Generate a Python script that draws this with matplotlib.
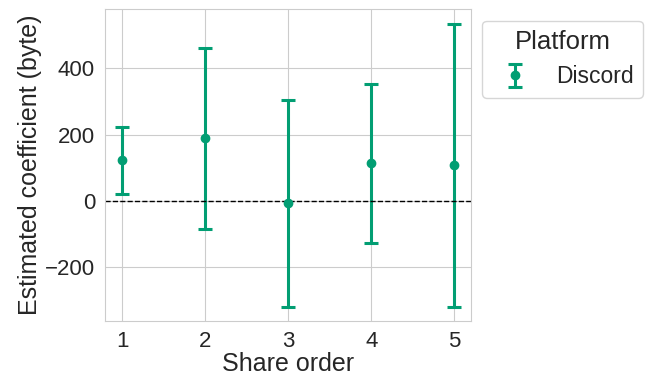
import numpy as np
import matplotlib.pyplot as plt
import seaborn as sns

# coeficientes estimados por orden de compartición
share_order = [1, 2, 3, 4, 5]
coef = [123, 189, -7, 114, 108]
err = [101, 273, 312, 240, 427]

sns.set_style("whitegrid")
plt.rcParams['font.family'] = ['Liberation Sans', 'DejaVu Sans']
color = sns.color_palette("colorblind")[2]

fig = plt.figure(figsize=(6.51, 3.81), dpi=100)
ax = fig.add_axes([0.162, 0.1575, 0.5615, 0.818])

ax.errorbar(share_order, coef, yerr=err, fmt='o', color=color,
            markersize=6, elinewidth=2.2, capsize=4.8, capthick=2.2,
            label='Discord')
ax.axhline(0, color='k', linestyle='--', linewidth=1)

ax.set_xticks(share_order)
ax.tick_params(labelsize=16, pad=4)
ax.set_xlabel('Share order', fontsize=18, labelpad=0)
ax.set_ylabel('Estimated coefficient (byte)', fontsize=18, labelpad=2)

leg = ax.legend(title='Platform', loc='upper left', bbox_to_anchor=(1, 1),
                fontsize=16.5, title_fontsize=18.5, frameon=True)

fig.savefig('out.png', dpi=100)
